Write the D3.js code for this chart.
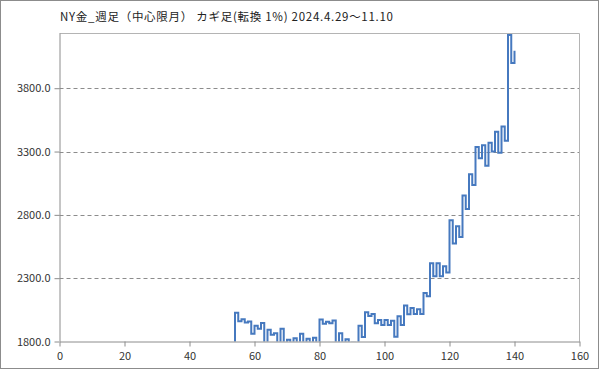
<!DOCTYPE html>
<html lang="ja">
<head>
<meta charset="UTF-8">
<title>NY金 週足 カギ足</title>
<script src="https://d3js.org/d3.v7.min.js"></script>
<style>
  body { margin: 0; background: #fff; }
  text { font-family: "Noto Sans CJK JP", "Noto Sans", sans-serif; }
</style>
</head>
<body>
<svg width="599" height="369"></svg>
<script>
// kagi turning points: x = reversal index, level = price at that turn
const turnX = [53, 54, 55, 56, 57, 58, 59, 60, 61, 62, 63, 64, 65, 66, 67, 68, 69, 70,
  71, 72, 73, 74, 75, 76, 77, 78, 79, 80, 81, 82, 83, 84, 85, 86, 87, 88, 89, 90,
  91, 92, 93, 94, 95, 96, 97, 98, 99, 100, 101, 102, 103, 104, 105, 106, 107, 108, 109, 110,
  111, 112, 113, 114, 115, 116, 117, 118, 119, 120, 121, 122, 123, 124, 125, 126, 127, 128, 129, 130,
  131, 132, 133, 134, 135, 136, 137, 138, 139, 140];
const turnLevel = [1750, 2028, 1960, 1975, 1950, 1958, 1862, 1925, 1900, 1947, 1775, 1892, 1853, 1866, 1775, 1900, 1775, 1813,
  1775, 1826, 1775, 1861, 1775, 1821, 1775, 1829, 1775, 1974, 1940, 1956, 1945, 1966, 1775, 1866, 1775, 1818, 1775, 1790,
  1770, 1925, 1835, 2030, 2001, 2017, 1944, 1970, 1930, 1970, 1930, 1964, 1838, 2000, 1930, 2085, 2015, 2065, 2018, 2055,
  2018, 2183, 2157, 2418, 2315, 2418, 2315, 2395, 2345, 2757, 2573, 2711, 2625, 2953, 2846, 3121, 3036, 3335, 3247, 3350,
  3188, 3370, 3300, 3457, 3290, 3497, 3386, 4220, 4000, 4095];

const xTicks = [0, 20, 40, 60, 80, 100, 120, 140, 160];
const yTicks = [1800, 2300, 2800, 3300, 3800];
const title = "NY金_週足（中心限月）  カギ足(転換 1%)   2024.4.29～11.10";

const W = 599, H = 369;
const plot = { left: 59.5, right: 579.5, top: 33.5, bottom: 341.5 };

const svg = d3.select("svg");

const x = d3.scaleLinear().domain([0, 160]).range([plot.left, plot.right]);
const y = d3.scaleLinear().domain([1800, 4232]).range([plot.bottom, plot.top]);

// outer frame
svg.append("rect")
    .attr("x", 0.5).attr("y", 0.5)
    .attr("width", W - 1).attr("height", H - 1)
    .attr("fill", "#fff")
    .attr("stroke", "#8c8c8c");

svg.append("text")
    .attr("x", 60).attr("y", 21)
    .attr("font-size", 11.5)
    .attr("fill", "#222")
    .attr("textLength", 333)
    .attr("lengthAdjust", "spacing")
    .text(title);

// gridlines
svg.append("g")
  .selectAll("line")
  .data(yTicks.slice(1))
  .join("line")
    .attr("x1", plot.left).attr("x2", plot.right)
    .attr("y1", d => Math.round(y(d)) + 0.5).attr("y2", d => Math.round(y(d)) + 0.5)
    .attr("stroke", "#8c8c8c")
    .attr("stroke-dasharray", "4,3");

// plot frame top/right
svg.append("path")
    .attr("d", `M${plot.left},${plot.top}H${plot.right}V${plot.bottom}`)
    .attr("fill", "none")
    .attr("stroke", "#b4b4b4");

svg.append("clipPath").attr("id", "clip")
  .append("rect")
    .attr("x", plot.left).attr("y", plot.top - 2)
    .attr("width", plot.right - plot.left).attr("height", plot.bottom - plot.top + 2);

const pts = turnX.map((d, i) => [d, turnLevel[i]]);
const line = d3.line()
    .x(d => x(d[0]))
    .y(d => y(d[1]))
    .curve(d3.curveStepAfter);

svg.append("path")
    .datum(pts)
    .attr("clip-path", "url(#clip)")
    .attr("fill", "none")
    .attr("stroke", "#4679bf")
    .attr("stroke-width", 2)
    .attr("stroke-linejoin", "miter")
    .attr("d", line);

// axes
const xAxis = svg.append("g")
    .attr("transform", `translate(0,${plot.bottom})`)
    .call(d3.axisBottom(x).tickValues(xTicks).tickSize(5).tickSizeOuter(0).tickPadding(6));
const yAxis = svg.append("g")
    .attr("transform", `translate(${plot.left},0)`)
    .call(d3.axisLeft(y).tickValues(yTicks).tickSize(5).tickSizeOuter(0).tickPadding(4)
      .tickFormat(d3.format(".1f")));

[xAxis, yAxis].forEach(g => {
  g.select(".domain").attr("stroke", "#8c8c8c");
  g.selectAll(".tick line").attr("stroke", "#8c8c8c");
  g.selectAll("text")
      .attr("font-family", "'Noto Sans CJK JP', 'Noto Sans', sans-serif")
      .attr("font-size", 11)
      .attr("fill", "#333");
});
yAxis.select(".domain").attr("d", `M0.5,${plot.top}V${plot.bottom}`);
</script>
</body>
</html>
